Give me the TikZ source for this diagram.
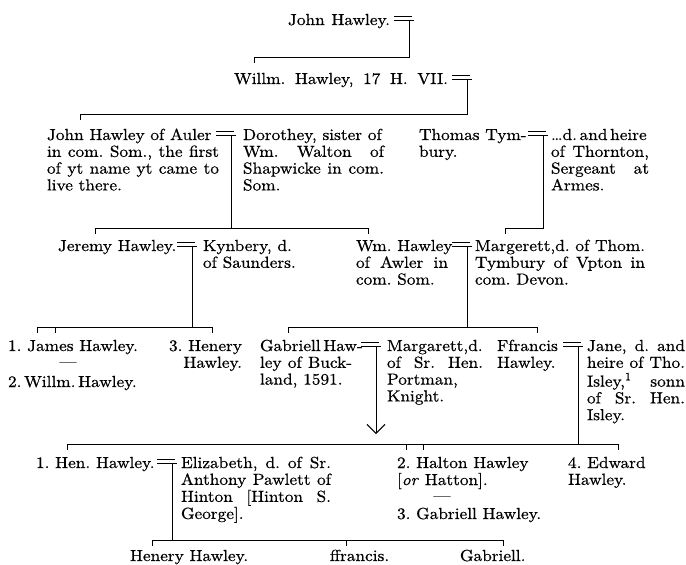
\documentclass[tikz,border=0pt]{standalone}
\usepackage{fontspec}
\setmainfont{lmroman10-regular.otf}[FakeStretch=1.08,FakeBold=0.6,ItalicFont=lmroman10-italic.otf]
\usetikzlibrary{arrows.meta}
\frenchspacing
\newcommand{\jl}[2]{\makebox[#1pt][s]{#2}}
\newcommand{\blk}[1]{\begin{tabular}[t]{@{}l@{}}#1\end{tabular}}
\newcommand{\blkr}[1]{\begin{tabular}[t]{@{}r@{}}#1\end{tabular}}
\newcommand{\wed}[1]{\draw[link] ([xshift=-15pt,yshift=3.5pt]#1) -- ([xshift=3pt,yshift=3.5pt]#1) ([xshift=-15pt]#1) -- ([xshift=5pt]#1);}
\tikzset{
  txt/.style={anchor=base west, inner sep=0pt, outer sep=0pt, font=\fontsize{16}{16.8}\selectfont\frenchspacing},
  link/.style={line width=1pt, black},
}
\begin{document}
\begin{tikzpicture}[x=1pt,y=-1pt]
\useasboundingbox (0,0) rectangle (686,565);
\fill[white] (0,0) rectangle (686,565);

% ---------- texts ----------
\node[txt] (t1) at (288,25) {\jl{102}{John Hawley.}};
\node[txt] (t2) at (234,84) {\jl{214}{Willm. Hawley, 17 H. VII.}};

\node[txt] (t3a) at (47,140) {\blk{John Hawley of Auler\\ \jl{172}{in com. Som., the first}\\ \jl{172}{of yt name yt came to}\\ live there.}};
\node[txt] (t3b) at (243,140) {\blk{Dorothey, sister of\\ \jl{141}{Wm. Walton of}\\ \jl{141}{Shapwicke in com.}\\ Som.}};
\node[txt] (t3c) at (419,140) {\blk{Thomas Tym-\\ bury.}};
\node[txt] (t3d) at (551,140) {\blk{\jl{98}{\dots d.\,and\,heire}\\ \jl{98}{of Thornton,}\\ \jl{98}{Sergeant at}\\ Armes.}};

\node[txt] (t4a) at (58,251) {Jeremy Hawley.};
\node[txt] (t4b) at (203,251) {\blk{Kynbery, d.\\ of Saunders.}};
\node[txt] (t4c) at (356,251) {\blk{Wm. Hawley\\ \jl{92}{of Awler in}\\ com. Som.}};
\node[txt] (t4d) at (475,251) {\blk{Margerett,d. of Thom.\\ \jl{170}{Tymbury of Vpton in}\\ com. Devon.}};

\node[txt] (t5a) at (8,351) {1. James Hawley.};
\node[txt,anchor=base] (t5dash) at (68,367) {---};
\node[txt] (t5b) at (8,387) {2.\,Willm.\,Hawley.};
\node[txt,anchor=base east] (t5c) at (242,351) {\blkr{3. Henery\\ Hawley.}};
\node[txt] (t5d) at (260,351) {\blk{Gabriell\,Haw-\\ \jl{92}{ley of Buck-}\\ land, 1591.}};
\node[txt] (t5e) at (387,351) {\blk{Margarett,d.\\ \jl{96}{of Sr. Hen.}\\ Portman,\\ Knight.}};
\node[txt] (t5f) at (497,351) {\blk{Ffrancis\\ Hawley.}};
\node[txt] (t5g) at (587,351) {\blk{\jl{98}{Jane, d. and}\\ \jl{98}{heire of Tho.}\\ \jl{98}{Isley,\textsuperscript{1} sonn}\\ \jl{98}{of Sr. Hen.}\\ Isley.}};

\node[txt] (t6a) at (36,468) {1. Hen. Hawley.};
\node[txt] (t6b) at (181,468) {\blk{\jl{150}{Elizabeth, d. of Sr.}\\ \jl{150}{Anthony Pawlett of}\\ \jl{150}{Hinton [Hinton S.}\\ George].}};
\node[txt] (t6c) at (397,468) {\blk{2. Halton Hawley\\ {[}\textit{or} Hatton].}};
\node[txt,anchor=base] (t6dash) at (442,501) {---};
\node[txt] (t6d) at (397,519) {3. Gabriell Hawley.};
\node[txt] (t6e) at (568,468) {\blk{4. Edward\\ Hawley.}};

\node[txt] (t7a) at (130,561) {Henery Hawley.};
\node[txt] (t7b) at (330,561) {ffrancis.};
\node[txt] (t7c) at (460,561) {Gabriell.};

% ---------- connectors ----------
% gen 1
\coordinate (m1) at (409,20); \coordinate (r1) at (0,57); \coordinate (k1) at (254,63);
\wed{m1}
\draw[link] (m1) -- (m1 |- r1) -| (k1);
% gen 2
\coordinate (m2) at (467,79); \coordinate (r2) at (0,114); \coordinate (k2) at (80,120);
\wed{m2}
\draw[link] (m2) -- (m2 |- r2) -| (k2);
% gen 3
\coordinate (m3) at (231,135); \coordinate (r3) at (0,228);
\coordinate (k3a) at (95,234); \coordinate (k3b) at (368,234);
\wed{m3}
\draw[link] (k3a) -- (k3a |- r3) -- (k3b |- r3) -- (k3b);
\draw[link] (m3) -- (m3 |- r3);
\coordinate (m4) at (543,135); \coordinate (k4) at (505,234);
\wed{m4}
\draw[link] (m4) -- (m4 |- r3) -| (k4);
% gen 4
\coordinate (m5) at (192,246); \coordinate (r4) at (0,327);
\coordinate (k5a) at (37,333); \coordinate (k5b) at (55,333); \coordinate (k5c) at (212,333);
\wed{m5}
\draw[link] (k5a) -- (k5a |- r4) -- (k5c |- r4) -- (k5c);
\draw[link] (k5b) -- (k5b |- r4);
\draw[link] (m5) -- (m5 |- r4);
\coordinate (m6) at (467,246); \coordinate (k6a) at (288,333); \coordinate (k6b) at (537,333);
\wed{m6}
\draw[link] (k6a) -- (k6a |- r4) -- (k6b |- r4) -- (k6b);
\draw[link] (m6) -- (m6 |- r4);
% gen 5
\coordinate (m7) at (376,346); \coordinate (a7) at (376,434);
\wed{m7}
\draw[link,-{Straight Barb[length=9pt,width=18pt]}] (m7) -- (a7);
\coordinate (m8) at (578,346); \coordinate (r5) at (0,444);
\coordinate (k8a) at (67,450); \coordinate (k8b) at (406,450); \coordinate (k8c) at (423,450); \coordinate (k8d) at (618,450);
\wed{m8}
\draw[link] (k8a) -- (k8a |- r5) -- (k8d |- r5) -- (k8d);
\draw[link] (k8b) -- (k8b |- r5) (k8c) -- (k8c |- r5);
\draw[link] (m8) -- (m8 |- r5);
% gen 6
\coordinate (m9) at (172,463); \coordinate (r6) at (0,540);
\coordinate (k9a) at (152,546); \coordinate (k9b) at (346,546); \coordinate (k9c) at (503,546);
\wed{m9}
\draw[link] (k9a) -- (k9a |- r6) -- (k9c |- r6) -- (k9c);
\draw[link] (k9b) -- (k9b |- r6);
\draw[link] (m9) -- (m9 |- r6);
\end{tikzpicture}
\end{document}
